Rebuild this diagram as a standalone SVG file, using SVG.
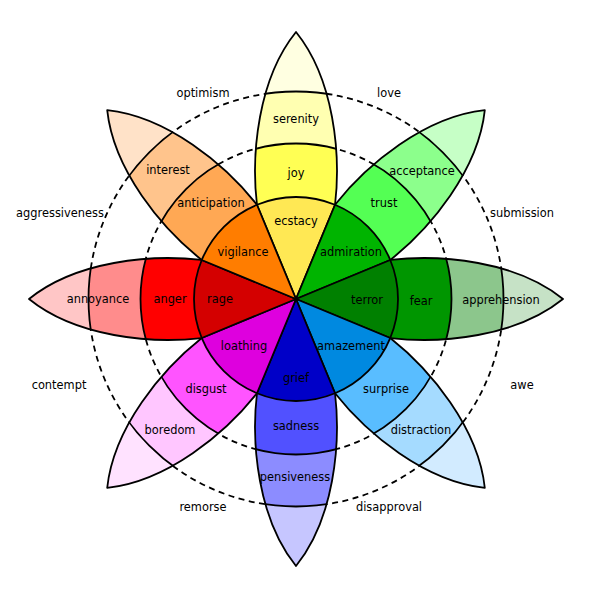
<svg xmlns="http://www.w3.org/2000/svg" xmlns:xlink="http://www.w3.org/1999/xlink" width="591" height="599" viewBox="0 0 591 599">
<style>
text{font-family:"DejaVu Sans","Liberation Sans",sans-serif;font-size:11.4px;fill:#000;text-anchor:middle}
.ln{stroke:#000;stroke-width:1.8;fill:none;stroke-linejoin:round}
.dash{stroke:#000;stroke-width:1.8;fill:none;stroke-dasharray:6,4.5}
.w{stroke:#000;stroke-width:1.8;stroke-linejoin:round}
</style>
<defs>
<path id="petal" d="M94.24,-39.03 C145,-45 220,-38 267,0 C220,38 145,45 94.24,39.03 Z"/>
<path id="edge" d="M94.24,-39.03 C145,-45 220,-38 267,0 C220,38 145,45 94.24,39.03"/>
<path id="wedge" d="M0,0 L94.24,-39.03 A102,102 0 0,1 94.24,39.03 Z"/>
<clipPath id="pc"><use xlink:href="#petal"/></clipPath>
<clipPath id="c3"><circle r="207.5"/></clipPath>
<clipPath id="c2"><circle r="155.5"/></clipPath>
<g id="bands">
<g clip-path="url(#pc)"><circle r="155.5" class="ln"/><circle r="207.5" class="ln"/></g>
<use xlink:href="#edge" class="ln"/>
</g>
</defs>
<rect width="591" height="599" fill="#fff"/>
<g id="guides">
<circle cx="296" cy="299" r="155.5" class="dash"/>
<circle cx="296" cy="299" r="207.5" class="dash"/>
</g>
<g id="joy">
<g transform="translate(296,299) rotate(-90)">
<use xlink:href="#petal" fill="#ffffe1"/>
<use xlink:href="#petal" fill="#ffffb1" clip-path="url(#c3)"/>
<use xlink:href="#petal" fill="#ffff54" clip-path="url(#c2)"/>
<use xlink:href="#bands"/>
<use xlink:href="#wedge" fill="#ffe854" class="w"/>
</g>
<text x="296" y="123.1">serenity</text><text x="296" y="177.1">joy</text><text x="296" y="225.1">ecstacy</text>
</g>
<g id="trust">
<g transform="translate(296,299) rotate(-45)">
<use xlink:href="#petal" fill="#c6ffc6"/>
<use xlink:href="#petal" fill="#8cff8c" clip-path="url(#c3)"/>
<use xlink:href="#petal" fill="#54ff54" clip-path="url(#c2)"/>
<use xlink:href="#bands"/>
<use xlink:href="#wedge" fill="#00b400" class="w"/>
</g>
<text x="422" y="175.1">acceptance</text><text x="384" y="207.1">trust</text><text x="351" y="256.1">admiration</text>
</g>
<g id="fear">
<g transform="translate(296,299)">
<use xlink:href="#petal" fill="#c6e2c6"/>
<use xlink:href="#petal" fill="#8cc68c" clip-path="url(#c3)"/>
<use xlink:href="#petal" fill="#009600" clip-path="url(#c2)"/>
<use xlink:href="#bands"/>
<use xlink:href="#wedge" fill="#008000" class="w"/>
</g>
<text x="501" y="303.6">apprehension</text><text x="421" y="304.6">fear</text><text x="367" y="304.1">terror</text>
</g>
<g id="surprise">
<g transform="translate(296,299) rotate(45)">
<use xlink:href="#petal" fill="#d2ebff"/>
<use xlink:href="#petal" fill="#a5dbff" clip-path="url(#c3)"/>
<use xlink:href="#petal" fill="#59bdff" clip-path="url(#c2)"/>
<use xlink:href="#bands"/>
<use xlink:href="#wedge" fill="#0089e0" class="w"/>
</g>
<text x="351" y="350.1">amazement</text><text x="386" y="393.1">surprise</text><text x="421" y="434.1">distraction</text>
</g>
<g id="sadness">
<g transform="translate(296,299) rotate(90)">
<use xlink:href="#petal" fill="#c6c6ff"/>
<use xlink:href="#petal" fill="#8c8cff" clip-path="url(#c3)"/>
<use xlink:href="#petal" fill="#5151ff" clip-path="url(#c2)"/>
<use xlink:href="#bands"/>
<use xlink:href="#wedge" fill="#0000c8" class="w"/>
</g>
<text x="296" y="382.1">grief</text><text x="296" y="430.1">sadness</text><text x="295" y="481.1">pensiveness</text>
</g>
<g id="disgust">
<g transform="translate(296,299) rotate(135)">
<use xlink:href="#petal" fill="#ffe2ff"/>
<use xlink:href="#petal" fill="#ffc6ff" clip-path="url(#c3)"/>
<use xlink:href="#petal" fill="#ff54ff" clip-path="url(#c2)"/>
<use xlink:href="#bands"/>
<use xlink:href="#wedge" fill="#de00de" class="w"/>
</g>
<text x="244" y="350.1">loathing</text><text x="206" y="393.1">disgust</text><text x="170" y="434.1">boredom</text>
</g>
<g id="anger">
<g transform="translate(296,299) rotate(180)">
<use xlink:href="#petal" fill="#ffc6c6"/>
<use xlink:href="#petal" fill="#ff8c8c" clip-path="url(#c3)"/>
<use xlink:href="#petal" fill="#ff0000" clip-path="url(#c2)"/>
<use xlink:href="#bands"/>
<use xlink:href="#wedge" fill="#d40000" class="w"/>
</g>
<text x="220" y="303.1">rage</text><text x="170" y="303.1">anger</text><text x="98" y="303.1">annoyance</text>
</g>
<g id="anticipation">
<g transform="translate(296,299) rotate(-135)">
<use xlink:href="#petal" fill="#ffe2c8"/>
<use xlink:href="#petal" fill="#ffc48c" clip-path="url(#c3)"/>
<use xlink:href="#petal" fill="#ffa854" clip-path="url(#c2)"/>
<use xlink:href="#bands"/>
<use xlink:href="#wedge" fill="#ff7d00" class="w"/>
</g>
<text x="243" y="256.1">vigilance</text><text x="211" y="207.1">anticipation</text><text x="168" y="174.1">interest</text>
</g>
<g id="dyads">
<text x="203" y="97.1">optimism</text><text x="389" y="97.1">love</text>
<text x="522" y="217.1">submission</text><text x="522" y="389.1">awe</text>
<text x="389" y="511.1">disapproval</text><text x="203" y="511.1">remorse</text>
<text x="59" y="389.1">contempt</text><text x="60" y="217.1">aggressiveness</text>
</g>
</svg>
